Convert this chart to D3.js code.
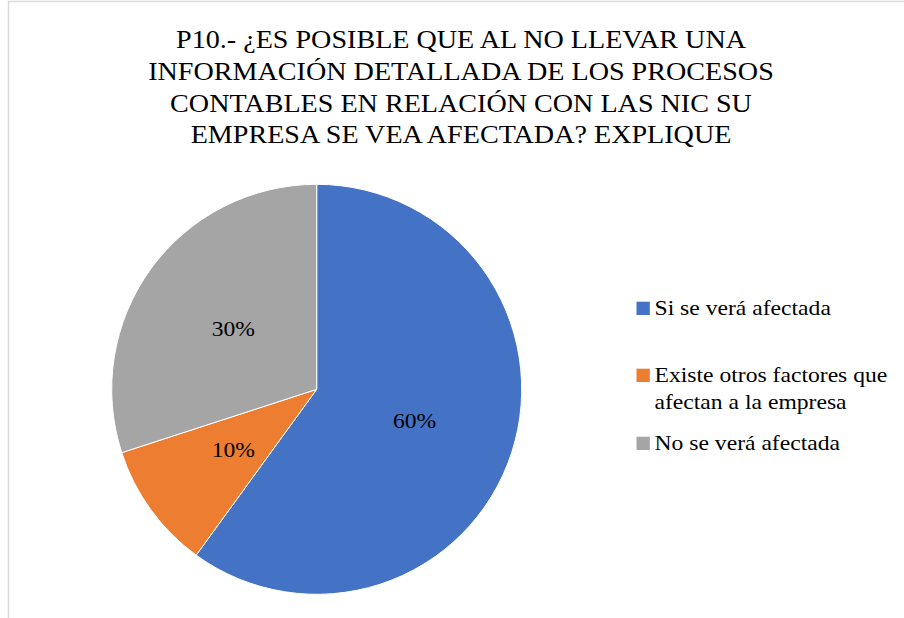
<!DOCTYPE html>
<html><head><meta charset="utf-8">
<script src="https://cdn.jsdelivr.net/npm/d3@7"></script>
<style>html,body{margin:0;padding:0;background:#fff;}svg{display:block;}
svg text{font-family:"Liberation Serif","Times New Roman",Tinos,"DejaVu Serif",serif;}</style>
</head><body>
<script>
const titleLines = ["P10.- ¿ES POSIBLE QUE AL NO LLEVAR UNA","INFORMACIÓN DETALLADA DE LOS PROCESOS","CONTABLES EN RELACIÓN CON LAS NIC SU","EMPRESA SE VEA AFECTADA? EXPLIQUE"];
const categories = ["Si se verá afectada","Existe otros factores que afectan a la empresa","No se verá afectada"];
const legendLines = [["Si se verá afectada"],["Existe otros factores que","afectan a la empresa"],["No se verá afectada"]];
const values = [60,10,30];
const colors = ["#4472C4","#ED7D31","#A5A5A5"];

const W=904,H=618, SX=1.125;
const svg=d3.select("body").append("svg").attr("width",W).attr("height",H);

// frame
svg.append("path").attr("d","M8.5,618 V1.5 H904").attr("fill","none").attr("stroke","#d9d9d9").attr("stroke-width",1.5);

// title
svg.append("g").selectAll("g").data(titleLines).join("g")
  .attr("transform",(d,i)=>`translate(461,${48.3+i*31.7}) scale(${SX},1)`)
  .append("text").attr("text-anchor","middle").attr("font-size",25).attr("fill","#000")
  .text(d=>d);

const cx=316.7, cy=389.3, r=205;
const pie=d3.pie().sort(null).value(d=>d)(values);
const arc=d3.arc().innerRadius(0).outerRadius(r);
const labelArc=d3.arc().innerRadius(103).outerRadius(103);
const g=svg.append("g").attr("transform",`translate(${cx},${cy})`);
g.selectAll("path").data(pie).join("path").attr("d",arc).attr("fill",(d,i)=>colors[i]).attr("stroke","#fff").attr("stroke-width",1);
g.selectAll("g.lbl").data(pie).join("g").attr("class","lbl")
  .attr("transform",d=>{const c=labelArc.centroid(d);return `translate(${c[0]},${c[1]}) scale(${SX},1)`;})
  .append("text").attr("dy","0.35em").attr("text-anchor","middle").attr("font-size",21).attr("fill","#000")
  .text(d=>d.data+"%");

// legend
const ly=[315,382,450];
const lg=svg.append("g");
legendLines.forEach((lines,i)=>{
  lg.append("rect").attr("x",636.5).attr("y",ly[i]-13.3).attr("width",13.3).attr("height",13.3).attr("fill",colors[i]);
  lines.forEach((t,j)=>{
    lg.append("g").attr("transform",`translate(654.5,${ly[i]+j*27}) scale(${SX},1)`)
      .append("text").attr("font-size",21).attr("fill","#000").text(t);
  });
});
</script>
</body></html>
